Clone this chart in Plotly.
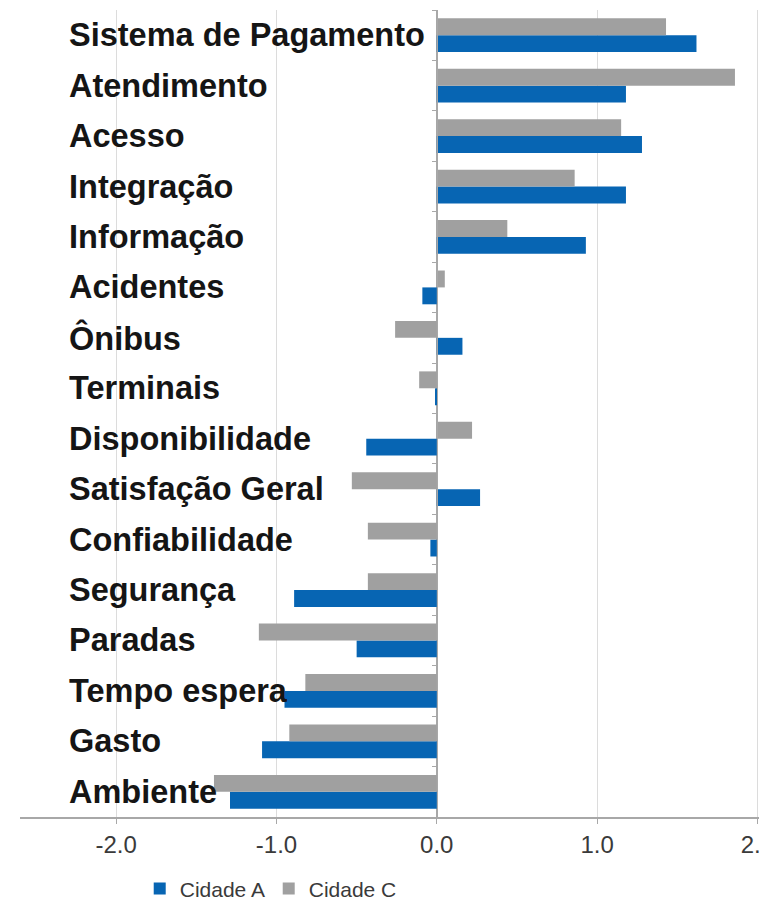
import plotly.graph_objects as go

# Categories listed from top to bottom of the chart
categories = [
    "Sistema de Pagamento", "Atendimento", "Acesso", "Integração", "Informação",
    "Acidentes", "Ônibus", "Terminais", "Disponibilidade", "Satisfação Geral",
    "Confiabilidade", "Segurança", "Paradas", "Tempo espera", "Gasto", "Ambiente",
]
cidade_a = [1.62, 1.18, 1.28, 1.18, 0.93, -0.09, 0.16, -0.01, -0.44, 0.27,
            -0.04, -0.89, -0.50, -0.95, -1.09, -1.29]
cidade_c = [1.43, 1.86, 1.15, 0.86, 0.44, 0.05, -0.26, -0.11, 0.22, -0.53,
            -0.43, -0.43, -1.11, -0.82, -0.92, -1.39]
x_ticks = [-2.0, -1.0, 0.0, 1.0, 2.0]
x_tick_labels = [f"{v:.1f}" for v in x_ticks]

BLUE = "#0765b3"
GREY = "#a0a0a0"
AXIS_GREY = "#a8a8a8"
FONT = "Liberation Sans, Arial, sans-serif"

x_range = [-2.6, 2.01]
zero_pos = (0 - x_range[0]) / (x_range[1] - x_range[0])

fig = go.Figure()
fig.add_trace(go.Bar(name="Cidade A", y=categories, x=cidade_a, orientation="h",
                     marker=dict(color=BLUE, line=dict(width=0))))
fig.add_trace(go.Bar(name="Cidade C", y=categories, x=cidade_c, orientation="h",
                     marker=dict(color=GREY, line=dict(width=0))))

# Left-aligned category labels
for cat in categories:
    fig.add_annotation(
        x=0.064, xref="paper", y=cat, yref="y",
        text=cat, showarrow=False, xanchor="left", yanchor="middle",
        font=dict(family=FONT, size=32.5, color="#151515", weight="bold"),
    )

fig.update_layout(
    width=759, height=900,
    margin=dict(l=20, r=0, t=10, b=83, autoexpand=False),
    plot_bgcolor="white", paper_bgcolor="white",
    barmode="group", bargap=0.33, bargroupgap=0,
    font=dict(family=FONT, color="#3a3a3a"),
    showlegend=True,
    legend=dict(
        orientation="h", x=0.162, xanchor="left", y=-0.089, yanchor="middle",
        font=dict(family=FONT, size=21, color="#3a3a3a"),
        entrywidth=84, bgcolor="rgba(0,0,0,0)",
    ),
    xaxis=dict(
        range=x_range, tickvals=x_ticks, ticktext=x_tick_labels,
        ticklabeloverflow="allow",
        showgrid=True, gridcolor="#dcdcdc", gridwidth=1,
        zeroline=True, zerolinecolor=AXIS_GREY, zerolinewidth=1,
        showline=True, linecolor=AXIS_GREY, linewidth=2,
        ticks="outside", ticklen=5, tickcolor=AXIS_GREY,
        tickfont=dict(family=FONT, size=24, color="#3a3a3a"),
        fixedrange=True,
    ),
    yaxis=dict(
        categoryorder="array", categoryarray=categories[::-1],
        anchor="free", position=zero_pos,
        showline=True, linecolor=AXIS_GREY, linewidth=1,
        ticks="outside", tickson="boundaries", ticklen=5, tickcolor=AXIS_GREY,
        showticklabels=False, showgrid=False, zeroline=False,
        fixedrange=True,
    ),
)

fig.write_html("out.html")
